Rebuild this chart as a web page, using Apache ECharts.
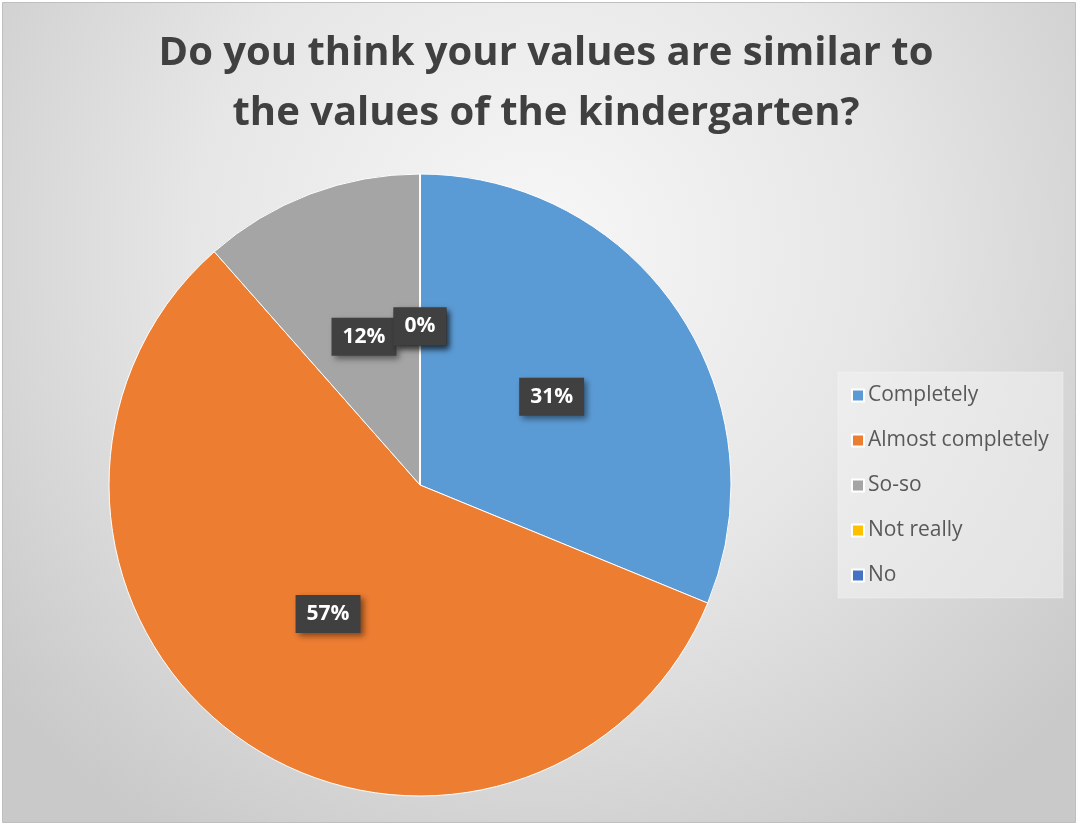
<!DOCTYPE html>
<html>
<head>
<meta charset="utf-8">
<script src="https://cdn.jsdelivr.net/npm/echarts@6/dist/echarts.min.js"></script>
<style>
html,body{margin:0;padding:0;background:#fff;}
#chart{width:1079px;height:827px;}
</style>
</head>
<body>
<div id="chart"></div>
<script>
const titleLines = ['Do you think your values are similar to', 'the values of the kindergarten?'];
const categories = ['Completely', 'Almost completely', 'So-so', 'Not really', 'No'];
const values = [31.2, 57.3, 11.5, 0, 0];
const colors = ['#5b9bd5', '#ed7d31', '#a5a5a5', '#ffc000', '#4472c4'];

const chart = echarts.init(document.getElementById('chart'), null, {renderer: 'canvas'});
const option = {
  animation: false,
  color: colors,
  graphic: [{
    type: 'rect', z: -10, silent: true,
    shape: {x: 2.5, y: 2.5, width: 1073, height: 820},
    style: {
      fill: {
        type: 'radial', x: 0.5, y: 0.3, r: 0.85,
        colorStops: [{offset: 0, color: '#f7f7f7'}, {offset: 0.5, color: '#e6e6e6'}, {offset: 1, color: '#c9c9c9'}]
      },
      stroke: '#bfbfbf', lineWidth: 1
    }
  }, {
    type: 'rect', z: -5, silent: true,
    shape: {x: 838, y: 372, width: 225, height: 226},
    style: {fill: 'rgba(242,242,242,0.55)', stroke: 'rgba(255,255,255,0.3)', lineWidth: 1}
  }],
  title: {
    text: titleLines.join('\n'),
    left: 541, top: 19, textAlign: 'center',
    textStyle: {fontFamily: 'Open Sans', fontWeight: 'bold', fontSize: 40, color: '#404040', lineHeight: 60}
  },
  legend: {
    orient: 'vertical',
    left: 846, top: 380,
    itemWidth: 12, itemHeight: 12, itemGap: 24,
    icon: 'rect',
    data: categories,
    textStyle: {fontFamily: 'Open Sans', fontSize: 21, lineHeight: 21, color: '#595959', padding: [0, 0, 0, -1]}
  },
  series: [{
    type: 'pie',
    center: [420, 485],
    radius: 311,
    startAngle: 90,
    clockwise: true,
    stillShowZeroSum: true,
    avoidLabelOverlap: false,
    itemStyle: {borderColor: '#ffffff', borderWidth: 1},
    labelLayout: {hideOverlap: false},
    label: {
      show: true,
      position: 'inside',
      formatter: function (p) { return Math.round(p.value) + '%'; },
      fontFamily: 'Open Sans', fontWeight: 'bold', fontSize: 21, color: '#ffffff',
      backgroundColor: '#404040',
      padding: [9, 11, 8, 11],
      shadowColor: 'rgba(0,0,0,0.45)', shadowBlur: 6, shadowOffsetX: 3, shadowOffsetY: 3
    },
    labelLine: {show: false},
    emphasis: {disabled: true},
    data: categories.map((c, i) => ({name: c, value: values[i]}))
  }]
};
chart.setOption(option);
</script>
</body>
</html>
